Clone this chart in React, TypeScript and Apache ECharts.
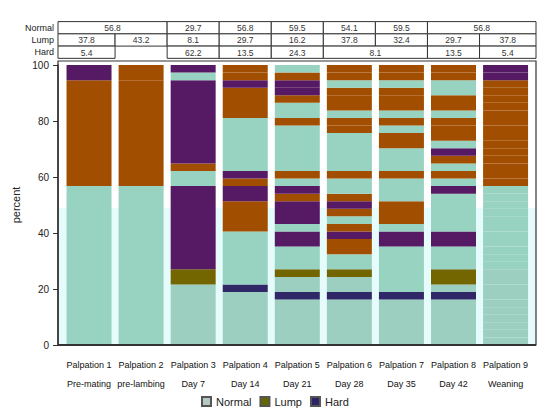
import React, { useEffect, useRef } from "react";
import * as echarts from "echarts";

// ---------- data ----------
const categories = [
  "Palpation 1", "Palpation 2", "Palpation 3", "Palpation 4", "Palpation 5",
  "Palpation 6", "Palpation 7", "Palpation 8", "Palpation 9",
];
const timepoints = [
  "Pre-mating", "pre-lambing", "Day 7", "Day 14", "Day 21",
  "Day 28", "Day 35", "Day 42", "Weaning",
];
const stateNames = ["Normal", "Lump", "Hard"];
const yTicks = [0, 20, 40, 60, 80, 100];

// table percentages (0 = empty cell)
const tableNormal = [56.8, 56.8, 29.7, 56.8, 59.5, 54.1, 59.5, 56.8, 56.8];
const tableLump = [37.8, 43.2, 8.1, 29.7, 16.2, 37.8, 32.4, 29.7, 37.8];
const tableHard = [5.4, 0, 62.2, 13.5, 24.3, 8.1, 8.1, 13.5, 5.4];

// 37 ewes per palpation; one letter per ewe (N normal, L lump, H hard),
// bottom to top; spaces separate the drawn segments
const animalsPerBar = 37;
const palpation1 = "NNNNNNNNNNNNNNNNNNNNN LLLLLLLLLLLLLL HH";
const palpation2 = "NNNNNNNNNNNNNNNNNNNNN LLLLLLLLLLLLLL LL";
const palpation3 = "NNNNNNNN LL HHHHHHHHHHH NN L HHHHHHHHHHH N H";
const palpation4 = "NNNNNNN H NNNNNNN LLLL HH L H NNNNNNN LLLL H L L";
const palpation5 = "NNNNNN H NN L NNN HH N HHH L H N L NNNNNN L NN L H H L N";
const palpation6 = "NNNNNN H NN L NN LL H L N L H L NN L NNNNN L L N LL L N L L";
const palpation7 = "NNNNNN H NNNNNN HH N LLL NNN L NNN LL N L N LL L N L L";
const palpation8 = "NNNNNN H N LL NNN HH NNNNN H N L N L H N L L L N LL NN L L";
const palpation9 = "N N N N N N N N N N N N N N N N N N N N N L L L L L L L L L L L L L L H H";
const palpations = [
  palpation1, palpation2, palpation3, palpation4, palpation5,
  palpation6, palpation7, palpation8, palpation9,
];

// ---------- styles / layout ----------
const FONT = '"Liberation Sans", Arial, Helvetica, sans-serif';
const COLORS: Record<string, string> = { N: "#98d2c0", L: "#a24e00", H: "#561a65" };
const LOWER_COLORS: Record<string, string> = { N: "#9ccfc0", L: "#736500", H: "#2f2766" };
const LEGEND_COLORS = ["#b3c9c1", "#666600", "#2b2566"];
const LOWER_LAYER_TOP = 28; // percent
const CYAN_TOP = 49; // percent

const W = 550;
const H = 411;
const GRID_LEFT = 63;
const GRID_RIGHT_X = 531.6;
const GRID_TOP = 65;
const GRID_BOTTOM_Y = 345;
const BOX_LEFT = 58;
const BOX_RIGHT = 536;
const BOX_TOP = 61;
const TABLE_TOP = 21.6;
const ROW_H = 12.25;

export default function App() {
  const ref = useRef<HTMLDivElement>(null);

  useEffect(() => {
    document.body.style.margin = "0";
    if (!ref.current) return;
    const chart = echarts.init(ref.current, undefined, { renderer: "svg" });

    const unit = 100 / animalsPerBar;
    const segs = palpations.map((s) => s.split(" ").filter((x) => x.length > 0));
    const maxSegs = Math.max(...segs.map((s) => s.length));

    const segmentSeries = Array.from({ length: maxSegs }, (_, k) => ({
      type: "bar",
      name: "Segment " + (k + 1),
      stack: "all",
      barWidth: 45,
      silent: true,
      data: segs.map((list) => {
        const seg = list[k];
        if (!seg) return "-";
        let before = 0;
        for (let j = 0; j < k; j++) before += list[j].length;
        const top = (before + seg.length) * unit;
        const s = seg[0];
        const col = top <= LOWER_LAYER_TOP ? LOWER_COLORS[s] : COLORS[s];
        return { value: seg.length * unit, itemStyle: { color: col } };
      }),
    }));

    const legendSeries = stateNames.map((n, k) => ({
      type: "bar",
      name: n,
      stack: "all",
      data: [],
      itemStyle: { color: LEGEND_COLORS[k], borderColor: "#555", borderWidth: 1 },
    }));

    // --- table & frame graphics ---
    const band = (GRID_RIGHT_X - GRID_LEFT) / categories.length;
    const edge = (k: number) =>
      k === 0 ? BOX_LEFT : k === categories.length ? BOX_RIGHT : GRID_LEFT + k * band;
    const yPix = (v: number) => GRID_BOTTOM_Y - ((GRID_BOTTOM_Y - GRID_TOP) * v) / 100;

    const graphics: any[] = [];
    graphics.push({
      type: "rect",
      z: 0,
      silent: true,
      shape: { x: BOX_LEFT, y: yPix(CYAN_TOP), width: BOX_RIGHT - BOX_LEFT, height: GRID_BOTTOM_Y - yPix(CYAN_TOP) },
      style: { fill: "#e6fcfc" },
    });
    graphics.push({
      type: "rect",
      z: 10,
      silent: true,
      shape: { x: BOX_LEFT, y: BOX_TOP, width: BOX_RIGHT - BOX_LEFT, height: GRID_BOTTOM_Y - BOX_TOP },
      style: { fill: "none", stroke: "#333", lineWidth: 1.2 },
    });
    graphics.push({
      type: "line",
      z: 10,
      silent: true,
      shape: { x1: BOX_LEFT, y1: GRID_BOTTOM_Y, x2: BOX_RIGHT, y2: GRID_BOTTOM_Y },
      style: { stroke: "#333", lineWidth: 2 },
    });

    const rows = [tableNormal, tableLump, tableHard];
    rows.forEach((vals, r) => {
      const y0 = TABLE_TOP + r * ROW_H;
      graphics.push({
        type: "text",
        z: 10,
        silent: true,
        x: 54,
        y: y0 + ROW_H / 2,
        style: {
          text: stateNames[r],
          fill: "#222",
          fontSize: 9,
          fontFamily: FONT,
          align: "right",
          verticalAlign: "middle",
          textAlign: "right",
          textVerticalAlign: "middle",
        },
      });
      let p = 0;
      while (p < vals.length) {
        let q = p;
        while (q + 1 < vals.length && vals[q + 1] === vals[p]) q++;
        if (vals[p] > 0) {
          const x0 = edge(p);
          const x1 = edge(q + 1);
          graphics.push({
            type: "rect",
            z: 10,
            silent: true,
            shape: { x: x0, y: y0, width: x1 - x0, height: ROW_H },
            style: { fill: "#fff", stroke: "#333", lineWidth: 1 },
          });
          graphics.push({
            type: "text",
            z: 11,
            silent: true,
            x: (x0 + x1) / 2,
            y: y0 + ROW_H / 2 + 0.5,
            style: {
              text: vals[p].toFixed(1),
              fill: "#333",
              fontSize: 8.5,
              fontFamily: FONT,
              align: "center",
              verticalAlign: "middle",
              textAlign: "center",
              textVerticalAlign: "middle",
            },
          });
        }
        p = q + 1;
      }
    });

    chart.setOption({
      animation: false,
      backgroundColor: "#fff",
      textStyle: { fontFamily: FONT },
      grid: {
        left: GRID_LEFT,
        right: W - GRID_RIGHT_X,
        top: GRID_TOP,
        bottom: H - GRID_BOTTOM_Y,
        containLabel: false,
      },
      legend: {
        data: stateNames,
        left: 196,
        top: 391,
        itemWidth: 9,
        itemHeight: 9,
        itemGap: 8,
        icon: "rect",
        textStyle: { fontSize: 11, color: "#222", fontFamily: FONT },
        selectedMode: false,
      },
      xAxis: {
        type: "category",
        data: categories,
        axisLine: { show: false },
        axisTick: { show: false },
        axisLabel: {
          interval: 0,
          margin: 10,
          fontSize: 9,
          lineHeight: 19,
          color: "#111",
          fontFamily: FONT,
          formatter: (v: string, i: number) => v + "\n" + timepoints[i],
        },
      },
      yAxis: {
        type: "value",
        min: yTicks[0],
        max: yTicks[yTicks.length - 1],
        interval: yTicks[1] - yTicks[0],
        offset: GRID_LEFT - BOX_LEFT,
        name: "percent",
        nameLocation: "middle",
        nameGap: 37,
        nameRotate: 90,
        nameTextStyle: { fontSize: 11, color: "#222", fontFamily: FONT },
        axisLine: { show: true, lineStyle: { color: "#333", width: 1.5 } },
        axisTick: { show: true, length: 5, lineStyle: { color: "#333" } },
        axisLabel: { fontSize: 10, color: "#222", margin: 9, fontFamily: FONT },
        splitLine: { show: false },
      },
      graphic: graphics,
      series: [...segmentSeries, ...legendSeries],
    });

    return () => chart.dispose();
  }, []);

  return (
    <div
      ref={ref}
      style={{ position: "fixed", left: 0, top: 0, width: W, height: H }}
    />
  );
}
